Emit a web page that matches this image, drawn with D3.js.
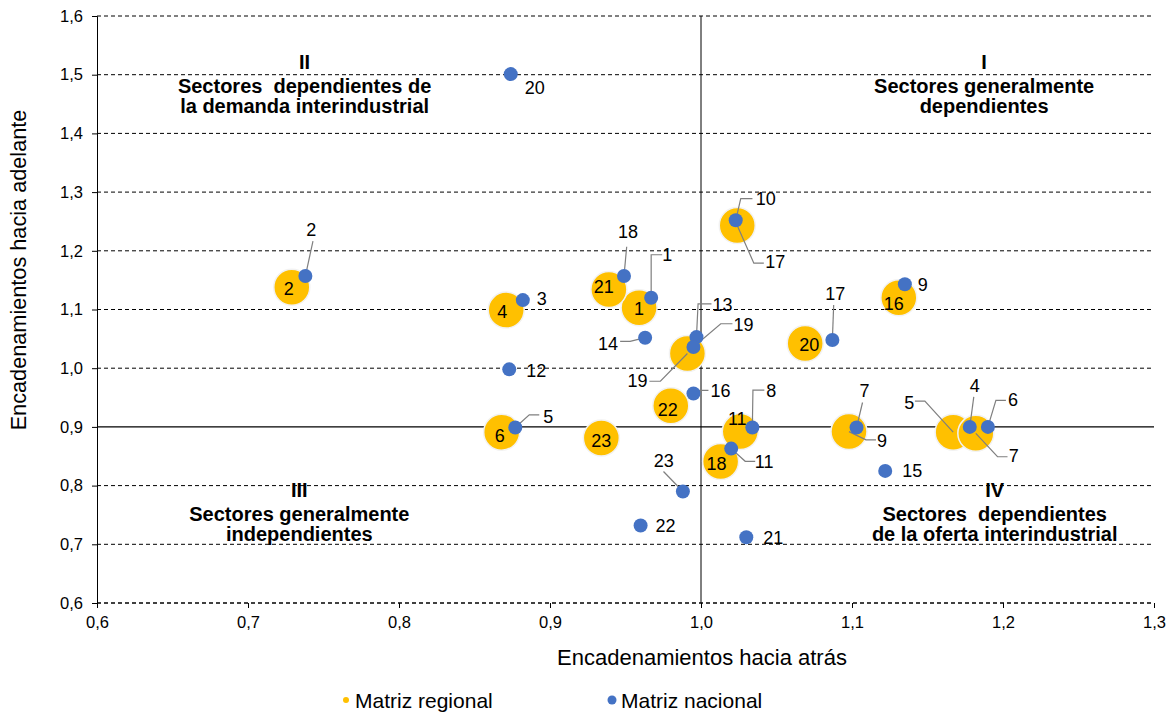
<!DOCTYPE html>
<html>
<head>
<meta charset="utf-8">
<script src="https://cdn.jsdelivr.net/npm/d3@7"></script>
<style>
  body { margin: 0; background: #fff; }
  svg { font-family: "Liberation Sans", Arial, sans-serif; }
  text { white-space: pre; }
</style>
</head>
<body>
<div id="chartbox"></div>
<script>
const WIDTH = 1173
const HEIGHT = 712

// matriz nacional, sectores 1..23
const nacSector = [1, 2, 3, 4, 5, 6, 7, 8, 9, 10, 11, 12, 13, 14, 15, 16, 17, 18, 19, 20, 21, 22, 23]
const nacBack = [0.967, 0.738, 0.882, 1.178, 0.877, 1.190, 1.103, 1.034, 1.135, 1.023, 1.020, 0.873, 0.997, 0.963, 1.122, 0.995, 1.087, 0.949, 0.995, 0.874, 1.030, 0.960, 0.988]
const nacFwd = [1.120, 1.157, 1.116, 0.900, 0.899, 0.900, 0.899, 0.899, 1.143, 1.252, 0.863, 0.998, 1.053, 1.052, 0.825, 0.957, 1.048, 1.157, 1.036, 1.501, 0.712, 0.732, 0.790]

// matriz regional
const regSector = [1, 2, 4, 5, 6, 7, 9, 11, 16, 17, 18, 19, 20, 21, 22, 23]
const regBack = [0.959, 0.729, 0.871, 1.167, 0.868, 1.182, 1.098, 1.026, 1.131, 1.024, 1.013, 0.991, 1.069, 0.939, 0.980, 0.934]
const regFwd = [1.103, 1.138, 1.099, 0.891, 0.891, 0.889, 0.892, 0.892, 1.120, 1.243, 0.841, 1.025, 1.042, 1.134, 0.936, 0.881]

const xTicks = [0.6, 0.7, 0.8, 0.9, 1.0, 1.1, 1.2, 1.3]
const yTicks = [0.6, 0.7, 0.8, 0.9, 1.0, 1.1, 1.2, 1.3, 1.4, 1.5, 1.6]

const quadrants = [
  { x: 0.7375, y: 1.509, lines: ['II', 'Sectores  dependientes de', 'la demanda interindustrial'] },
  { x: 1.1875, y: 1.509, lines: ['I', 'Sectores generalmente', 'dependientes'] },
  { x: 0.734, y: 0.781, lines: ['III', 'Sectores generalmente', 'independientes'] },
  { x: 1.1945, y: 0.781, lines: ['IV', 'Sectores  dependientes', 'de la oferta interindustrial'] },
]

// label placement (pixel offsets from the marker); leader = polyline from the marker
const nacLabel = {
  1: { d: [16, -43], leader: [[0, 0], [0, -43], [11, -43]] },
  2: { d: [6, -47], leader: [[0, 0], [7.6, -35]] },
  3: { d: [19, -2] },
  4: { d: [5, -41], leader: [[0, 0], [4, -30]] },
  5: { d: [33, -11], leader: [[0, 0], [14, -12.7], [24, -12.7]] },
  6: { d: [25, -27], leader: [[0, 0], [8, -26.6], [18, -26.6]] },
  7: { d: [8, -37], leader: [[0, 0], [6, -25]] },
  8: { d: [19, -37], leader: [[0, 0], [0.6, -37.4], [12, -37.4]] },
  9: { d: [18, 0] },
  10: { d: [30, -22], leader: [[0, 0], [5, -21.7], [16.7, -21.7]] },
  11: { d: [33, 13], leader: [[0, 0], [14, 12.7], [24, 12.7]] },
  12: { d: [27, 1] },
  13: { d: [26, -33], leader: [[0, 0], [1.6, -33.3], [15, -33.3]] },
  14: { d: [-37, 6], leader: [[0, 0], [-15, 3.7], [-25, 3.7]] },
  15: { d: [27, 0] },
  16: { d: [27, -3], leader: [[0, 0], [6, -3], [15, -3]] },
  17: { d: [3, -47], leader: [[0, 0], [1.3, -35]] },
  18: { d: [4, -45], leader: [[0, 0], [2.7, -29.3]] },
  19: { d: [50, -23], leader: [[0, 0], [27.3, -23.3], [39, -23.3]] },
  20: { d: [24, 13] },
  21: { d: [27, 0] },
  22: { d: [25, 0] },
  23: { d: [-19, -31], leader: [[0, 0], [-19.4, -20]] },
}
const regLabel = {
  1: { d: [0, 1] },
  2: { d: [-3, 1] },
  4: { d: [-4, 1] },
  5: { d: [-44, -30], leader: [[0, 0], [-28.3, -31], [-38.3, -31]] },
  6: { d: [-2, 3] },
  7: { d: [38, 22], leader: [[0, 0], [21.7, 23.4], [31.7, 23.4]] },
  9: { d: [33, 9], leader: [[0, 0], [17, 8.3], [27, 8.3]] },
  11: { d: [-3, -13] },
  16: { d: [-5, 6] },
  17: { d: [38, 36], leader: [[0, 0], [16.6, 37.6], [26.6, 37.6]] },
  18: { d: [-4, 2] },
  19: { d: [-50, 27], leader: [[0, 0], [-27, 27.7], [-38, 27.7]] },
  20: { d: [4, 1] },
  21: { d: [-5, -3] },
  22: { d: [-3, 4] },
  23: { d: [0, 2] },
}

const YELLOW = '#FFC000'
const BLUE = '#4472C4'
const fmt = v => d3.format('.1f')(v).replace('.', ',')

const x = d3.scaleLinear().domain([0.6, 1.3]).range([97, 1154])
const y = d3.scaleLinear().domain([0.6, 1.6]).range([603, 16])

const svg = d3.select('#chartbox')
  .append('svg')
  .attr('width', WIDTH)
  .attr('height', HEIGHT)

// gridlines
svg.append('g')
  .selectAll('line')
  .data(yTicks.filter(t => t !== 0.9))
  .enter()
  .append('line')
  .attr('x1', x(0.6))
  .attr('x2', x(1.3))
  .attr('y1', d => y(d))
  .attr('y2', d => y(d))
  .attr('stroke', d => d === 0.6 ? '#404040' : '#000')
  .attr('stroke-width', d => d === 0.6 ? 2 : 1)
  .attr('stroke-dasharray', '4,3')

// quadrant dividers
svg.append('line')
  .attr('x1', x(0.6)).attr('x2', x(1.3))
  .attr('y1', y(0.9)).attr('y2', y(0.9))
  .attr('stroke', '#000').attr('stroke-width', 1.3)
svg.append('line')
  .attr('x1', x(1.0)).attr('x2', x(1.0))
  .attr('y1', y(1.6)).attr('y2', y(0.6))
  .attr('stroke', '#000').attr('stroke-width', 1)

// axes
const yAxis = svg.append('g')
  .attr('transform', `translate(${x(0.6)},0)`)
  .call(d3.axisLeft(y).tickValues(yTicks).tickFormat(fmt).tickSize(5).tickPadding(9))
const xAxis = svg.append('g')
  .attr('transform', `translate(0,${y(0.6)})`)
  .call(d3.axisBottom(x).tickValues(xTicks).tickFormat(fmt).tickSize(5).tickPadding(8))

;[yAxis, xAxis].forEach(a => {
  a.select('.domain').attr('stroke', '#000').attr('stroke-width', 1)
  a.selectAll('.tick line').attr('stroke', '#000')
  a.selectAll('.tick text')
    .attr('fill', '#000')
    .style('font-size', '16.5px')
    .style('font-family', '"Liberation Sans", Arial, sans-serif')
})
xAxis.select('.domain').attr('stroke', 'none')

// axis titles
svg.append('text')
  .attr('x', 702).attr('y', 665)
  .attr('text-anchor', 'middle')
  .style('font-size', '22px')
  .text('Encadenamientos hacia atrás')
svg.append('text')
  .attr('transform', 'translate(26,270) rotate(-90)')
  .attr('text-anchor', 'middle')
  .style('font-size', '21.7px')
  .text('Encadenamientos hacia adelante')

// quadrant captions
const lineOff = [0, 24, 44]
quadrants.forEach(q => {
  const t = svg.append('text')
    .attr('text-anchor', 'middle')
    .style('font-size', '20px')
    .style('font-weight', 'bold')
  q.lines.forEach((line, i) => {
    t.append('tspan')
      .attr('x', x(q.x))
      .attr('y', y(q.y) + lineOff[i])
      .text(line)
  })
})

const nac = nacSector.map((s, i) => ({ s, bx: nacBack[i], fy: nacFwd[i], lab: nacLabel[s] }))
const reg = regSector.map((s, i) => ({ s, bx: regBack[i], fy: regFwd[i], lab: regLabel[s] }))

// regional bubbles
svg.append('g')
  .selectAll('circle')
  .data(reg)
  .enter()
  .append('circle')
  .attr('cx', d => x(d.bx))
  .attr('cy', d => y(d.fy))
  .attr('r', 18)
  .attr('fill', YELLOW)
  .attr('stroke', '#f2f2f2')
  .attr('stroke-width', 1.5)

// leader lines
const leaders = [...reg, ...nac].filter(d => d.lab.leader)
svg.append('g')
  .selectAll('polyline')
  .data(leaders)
  .enter()
  .append('polyline')
  .attr('points', d => d.lab.leader.map(p => [x(d.bx) + p[0], y(d.fy) + p[1]].join(',')).join(' '))
  .attr('fill', 'none')
  .attr('stroke', '#7f7f7f')
  .attr('stroke-width', 1.2)

// national points
svg.append('g')
  .selectAll('circle')
  .data(nac)
  .enter()
  .append('circle')
  .attr('cx', d => x(d.bx))
  .attr('cy', d => y(d.fy))
  .attr('r', 7)
  .attr('fill', BLUE)

// data labels
svg.append('g')
  .selectAll('text')
  .data([...reg, ...nac])
  .enter()
  .append('text')
  .attr('x', d => x(d.bx) + d.lab.d[0])
  .attr('y', d => y(d.fy) + d.lab.d[1])
  .attr('dy', '0.36em')
  .attr('text-anchor', 'middle')
  .style('font-size', '18px')
  .attr('fill', '#000')
  .text(d => d.s)

// legend
const legendItems = [
  { name: 'Matriz regional', color: YELLOW, r: 3, x: 346 },
  { name: 'Matriz nacional', color: BLUE, r: 4.5, x: 612 },
]
const lg = svg.append('g').selectAll('g')
  .data(legendItems)
  .enter()
  .append('g')
  .attr('transform', d => `translate(${d.x},700)`)
lg.append('circle')
  .attr('r', d => d.r)
  .attr('fill', d => d.color)
lg.append('text')
  .attr('x', 9)
  .attr('dy', '0.36em')
  .style('font-size', '21px')
  .text(d => d.name)
</script>
</body>
</html>
